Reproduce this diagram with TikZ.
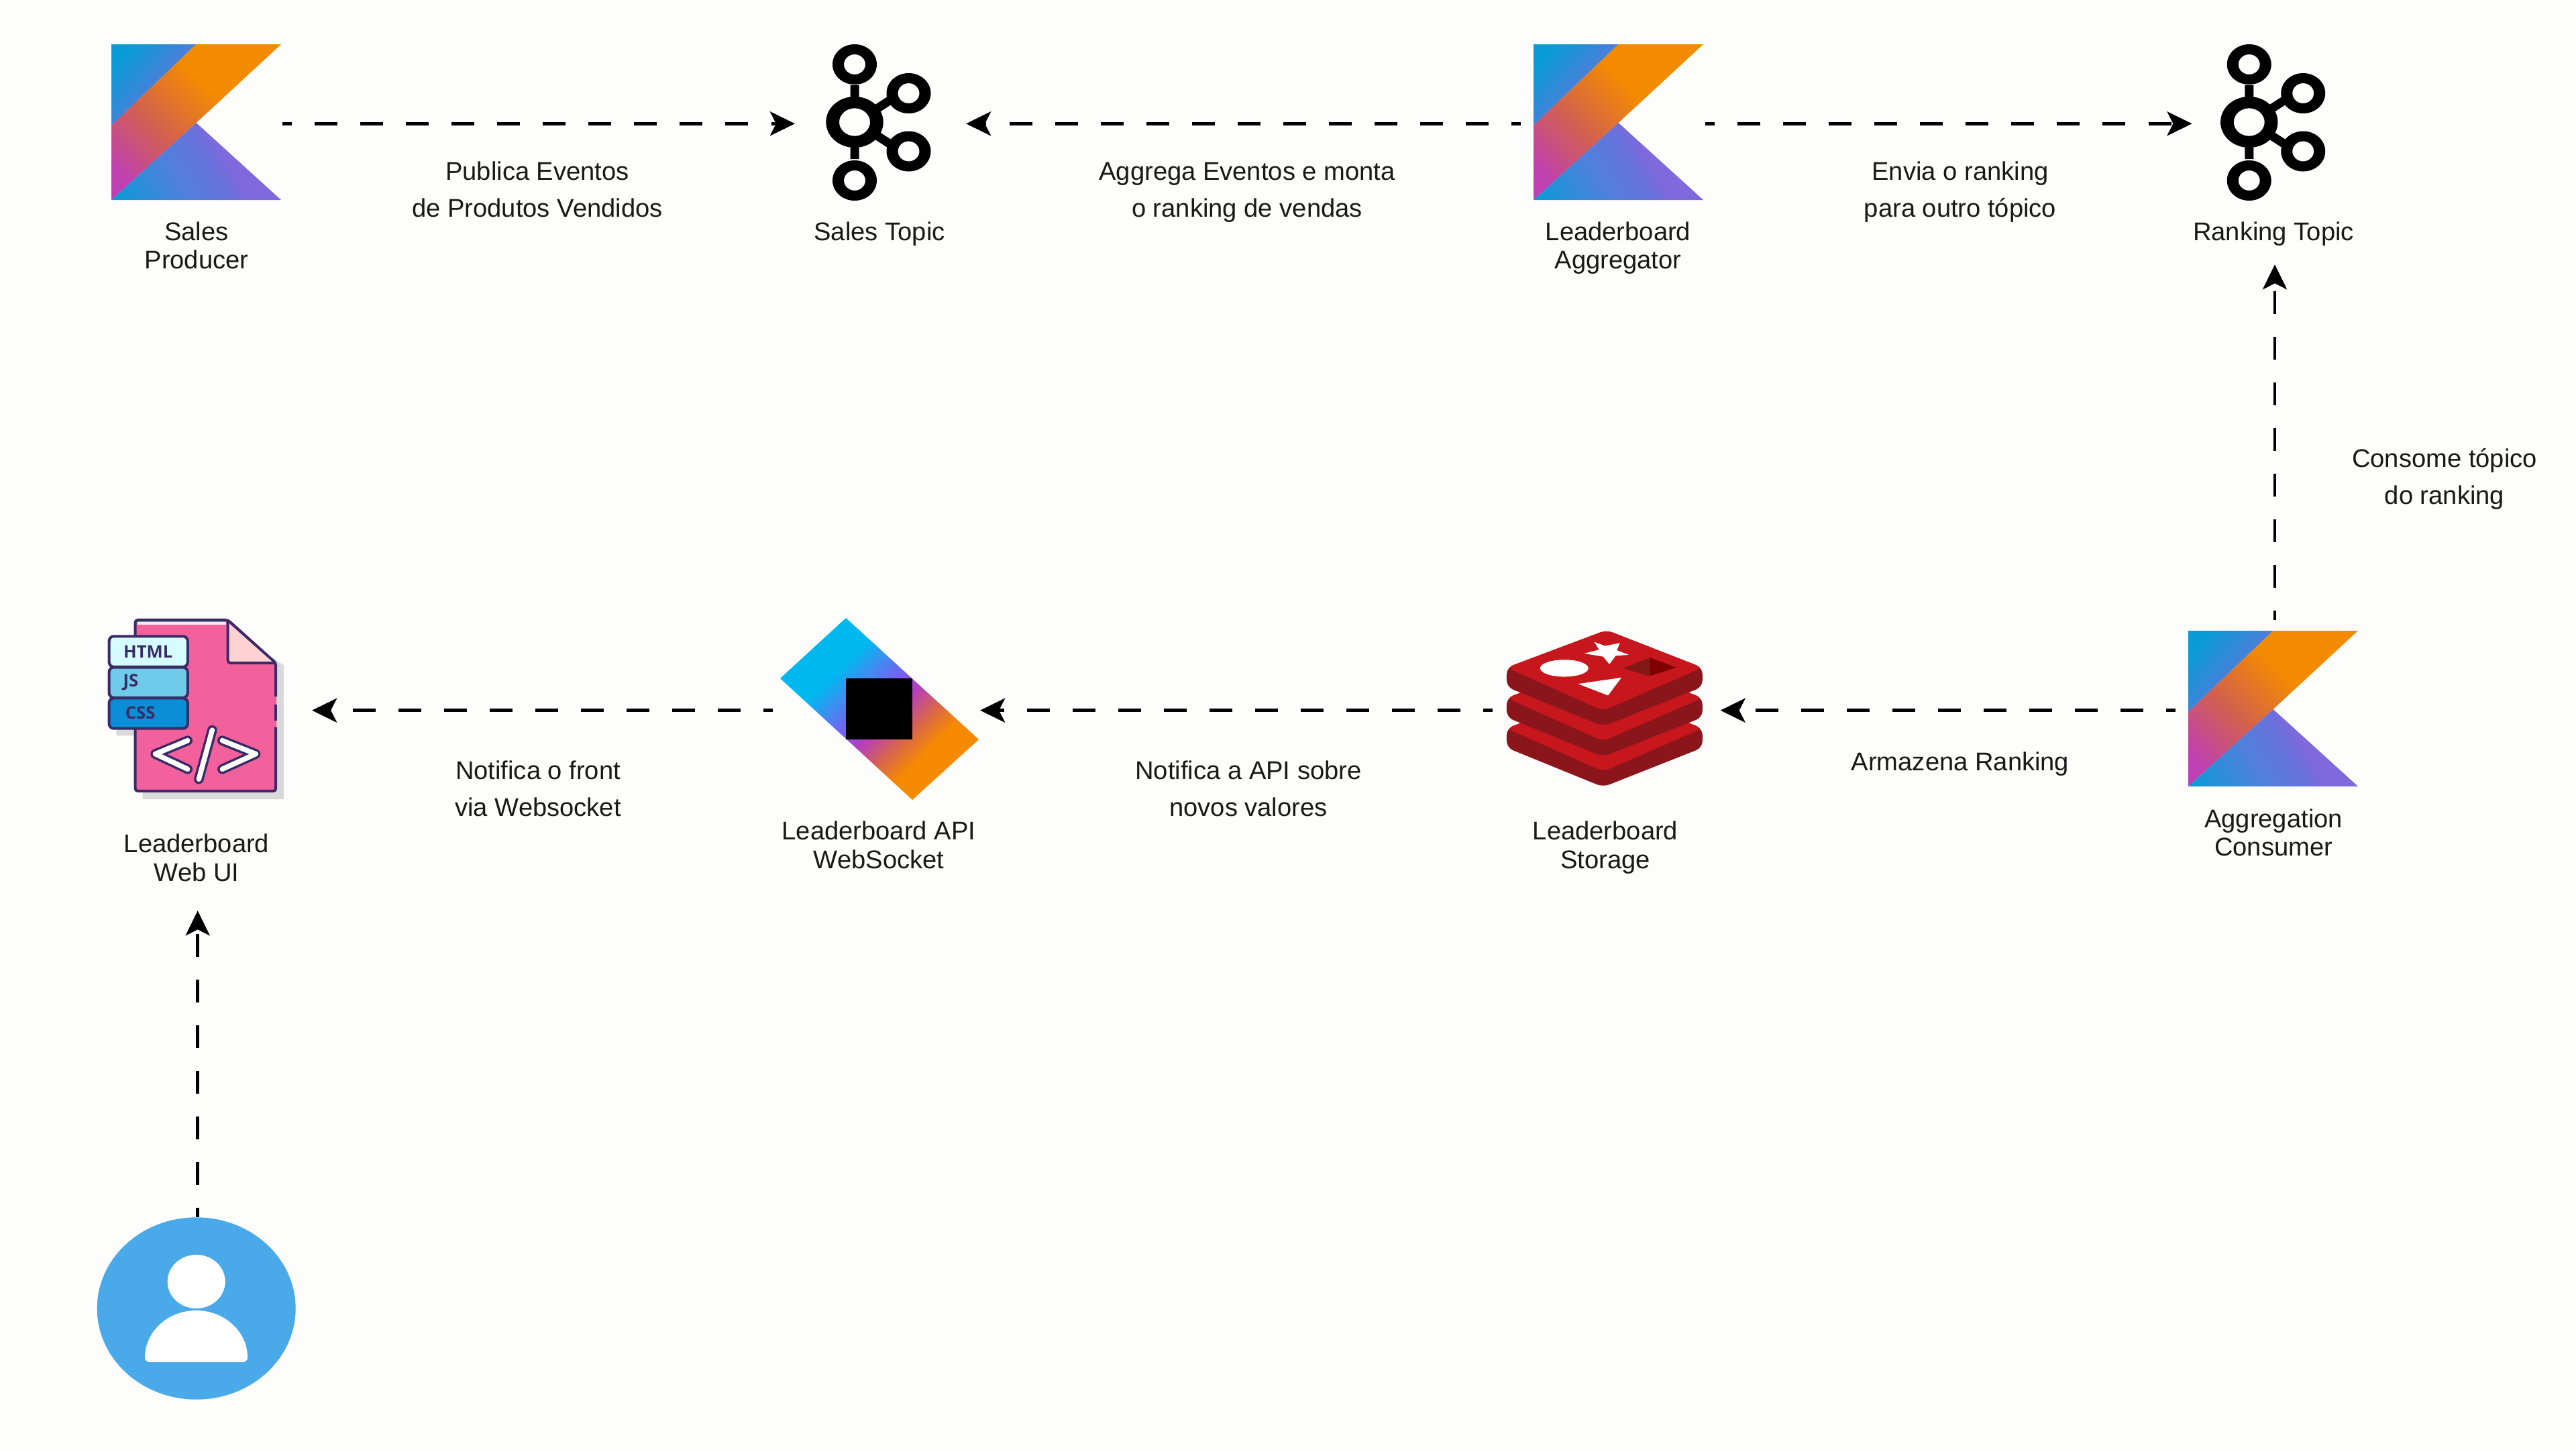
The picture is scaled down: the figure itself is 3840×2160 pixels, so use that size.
\documentclass[tikz,border=0pt]{standalone}
\usepackage{fontspec}
\setmainfont{Liberation Sans}
\newfontfamily\tagfont{Open Sans}
\usetikzlibrary{arrows.meta}
\definecolor{pageBg}{HTML}{FDFDFC}
\definecolor{kotlinCyan}{HTML}{0A9BD6}
\definecolor{kotlinPurple}{HTML}{7F69DC}
\definecolor{redisFace}{HTML}{C8161D}
\definecolor{redisSide}{HTML}{8A161C}
\definecolor{docInk}{HTML}{3A2A66}
\definecolor{docPink}{HTML}{F2619C}
\definecolor{userBlue}{HTML}{4AA9E8}
\pgfdeclarehorizontalshading{apiBar}{100bp}{color(0bp)=(rgb,255:red,0;green,184;blue,240);color(35bp)=(rgb,255:red,0;green,184;blue,240);color(41bp)=(rgb,255:red,62;green,142;blue,240);color(48bp)=(rgb,255:red,124;green,92;blue,240);color(53bp)=(rgb,255:red,180;green,62;blue,190);color(60bp)=(rgb,255:red,216;green,100;blue,80);color(67bp)=(rgb,255:red,245;green,138;blue,0);color(100bp)=(rgb,255:red,245;green,138;blue,0)}
\pgfdeclarehorizontalshading{kotlinBand}{100bp}{color(0bp)=(rgb,255:red,194;green,60;blue,196);color(22bp)=(rgb,255:red,192;green,64;blue,176);color(40bp)=(rgb,255:red,210;green,96;blue,79);color(60bp)=(rgb,255:red,243;green,139;blue,0);color(100bp)=(rgb,255:red,243;green,139;blue,0)}
\pgfdeclarehorizontalshading{kotlinBase}{100bp}{color(0bp)=(rgb,255:red,10;green,155;blue,214);color(16bp)=(rgb,255:red,10;green,155;blue,214);color(40bp)=(rgb,255:red,79;green,128;blue,220);color(55bp)=(rgb,255:red,106;green,112;blue,220);color(60bp)=(rgb,255:red,127;green,105;blue,220);color(100bp)=(rgb,255:red,127;green,105;blue,220)}
\tikzset{
  iconbox/.style={inner sep=0pt, outer sep=0pt},
  flow/.style={black, line width=0.045cm, dash pattern=on 0.34cm off 0.34cm, dash phase=0.2cm, -{Stealth[length=0.37cm,width=0.36cm,inset=0.09cm]}},
  iconlabel/.style={font={\fontsize{10.85}{12}\selectfont}, align=center, inner sep=0pt, text height=8.7pt, text depth=2.4pt, text=black!90},
  flowlabel/.style={font={\fontsize{10.85}{15.5}\selectfont}, align=center, inner sep=0pt, text height=8.7pt, text depth=2.4pt, text=black!90},
  tagtext/.style={font={\tagfont\bfseries\fontsize{7.3}{8}\selectfont}, text=docInk, inner sep=0pt}
}
\newcommand{\kotlinIcon}[2]{
\begin{scope}[shift={(#1,#2)}]
\shade[left color=kotlinCyan, right color=kotlinPurple, shading angle=50] (0,0) -- (126.5,0) -- (0,121) -- cycle;
\shade[shading=kotlinBand, shading angle=45] (126.5,0) -- (253,0) -- (126.5,117) -- (0,232) -- (0,121) -- cycle;
\shade[shading=kotlinBase, shading angle=30] (126.5,117) -- (253,232) -- (0,232) -- cycle;
\end{scope}
}
\newcommand{\kafkaIcon}[2]{
\begin{scope}[shift={(#1,#2)}]
\draw[black, line width=0.13cm] (0,-55) -- (0,-30) (0,30) -- (0,55) (30,-18) -- (58,-36) (30,18) -- (58,36);
\fill[black, even odd rule] (0,0) ellipse [x radius=42.7, y radius=38] (0,0) ellipse [x radius=23, y radius=20.7];
\fill[black, even odd rule] (0,-86) ellipse [x radius=33, y radius=30] (0,-86) ellipse [x radius=16, y radius=15];
\fill[black, even odd rule] (0,87) ellipse [x radius=33, y radius=30] (0,87) ellipse [x radius=16, y radius=15];
\fill[black, even odd rule] (80.5,-43) ellipse [x radius=33, y radius=30] (80.5,-43) ellipse [x radius=16, y radius=15];
\fill[black, even odd rule] (80.5,43.5) ellipse [x radius=33, y radius=30] (80.5,43.5) ellipse [x radius=16, y radius=15];
\end{scope}
}
\newcommand{\redisLayer}[1]{
\fill[redisSide, rounded corners=0.1cm] (78,{225+#1}) -- (525,{57+#1}) -- (955,{225+#1}) -- (955,{312+#1}) -- (510,{488+#1}) -- (78,{312+#1}) -- cycle;
\fill[redisFace, rounded corners=0.1cm] (78,{225+#1}) -- (525,{57+#1}) -- (955,{225+#1}) -- (510,{418+#1}) -- cycle;
}
\begin{document}
\begin{tikzpicture}[x=0.01cm,y=-0.01cm]
\fill[pageBg] (0,0) rectangle (3840,2160);
\useasboundingbox (0,0) rectangle (3840,2160);
\node[iconbox, minimum width=2.56cm, minimum height=2.32cm] (salesProducer) at (293,184.3) {};
\node[iconbox, minimum width=2.55cm, minimum height=2.32cm] (salesTopic) at (1312.5,184.3) {};
\node[iconbox, minimum width=2.75cm, minimum height=2.32cm] (boardAggregator) at (2404.5,184.3) {};
\node[iconbox, minimum width=2.45cm, minimum height=2.32cm] (rankingTopic) at (3390,184.3) {};
\node[iconbox, minimum width=2.96cm, minimum height=2.69cm] (aggConsumer) at (3391,1058.7) {};
\node[iconbox, minimum width=3.395cm, minimum height=2.32cm] (boardStorage) at (2394.75,1058.7) {};
\node[iconbox, minimum width=3.09cm, minimum height=2.72cm] (boardApi) at (1306.5,1058.7) {};
\node[iconbox, minimum width=3.44cm, minimum height=2.57cm] (webUi) at (293,1058.7) {};
\node[iconbox, minimum width=2.96cm, minimum height=2.71cm] (userIcon) at (294.7,1950) {};
\kotlinIcon{166}{66}
\kotlinIcon{2286}{66}
\kotlinIcon{3262}{940}
\kafkaIcon{1274}{182}
\kafkaIcon{3352.7}{182}
\begin{scope}[shift={(2220,920)},x=0.00333cm,y=-0.00333cm]
\redisLayer{272}
\redisLayer{136}
\redisLayer{0}
\fill[white] (470,110) -- (518,128) -- (585,115) -- (572,148) -- (625,168) -- (566,172) -- (538,210) -- (510,176) -- (425,162) -- (492,145) -- cycle;
\fill[white] (336,228) ellipse [x radius=108, y radius=38];
\fill[white] (398,298) -- (592,270) -- (532,350) -- cycle;
\fill[red!45!black!90!white] (600,228) -- (720,180) -- (720,265) -- cycle;
\fill[red!50!black] (720,180) -- (838,225) -- (720,262) -- cycle;
\end{scope}
\shade[shading=apiBar, shading angle=-45] (1261,921) -- (1459,1102) -- (1360,1192) -- (1163,1011) -- cycle;
\fill[black] (1261,1011) rectangle (1360,1102);
\begin{scope}[shift={(130,900)},x=0.00333cm,y=-0.00333cm]
\fill[black!15] (632,110) -- (880,275) -- (880,875) -- (248,875) -- (248,590) -- (130,590) -- (130,560) -- cycle;
\fill[docPink] (215,70) -- (630,70) -- (848,265) -- (848,840) -- (215,840) -- cycle;
\fill[white!85!docPink] (225,80) rectangle (622,94);
\draw[docInk, line width=0.04cm, rounded corners=0.04cm] (215,150) -- (215,72) -- (630,72) -- (845,265) -- (845,415);
\draw[docInk, line width=0.04cm, rounded corners=0.04cm] (845,450) -- (845,522);
\draw[docInk, line width=0.04cm, rounded corners=0.04cm] (845,552) -- (845,838) -- (215,838) -- (215,560);
\fill[pink!70!white] (632,85) -- (832,262) -- (632,262) -- cycle;
\draw[docInk, line width=0.04cm, rounded corners=0.04cm] (630,72) -- (630,265) -- (845,265);
\draw[docInk, line width=0.04cm, fill={rgb,255:red,213;green,253;blue,255}, rounded corners=0.07cm] (98,145) rectangle (450,282);
\draw[docInk, line width=0.04cm, fill={rgb,255:red,111;green,203;blue,233}, rounded corners=0.07cm] (98,284) rectangle (450,420);
\draw[docInk, line width=0.04cm, fill={rgb,255:red,10;green,143;blue,214}, rounded corners=0.07cm] (98,422) rectangle (450,558);
\node[tagtext] (tagHtml) at (273,215) {HTML};
\node[tagtext] (tagJs) at (195,350) {JS};
\node[tagtext] (tagCss) at (238,488) {CSS};
\draw[docInk, line width=0.145cm, line cap=round, line join=round] (450,612) -- (305,672) -- (450,740) (560,565) -- (500,785) (605,612) -- (755,672) -- (605,740);
\draw[white, line width=0.075cm, line cap=round, line join=round] (450,612) -- (305,672) -- (450,740) (560,565) -- (500,785) (605,612) -- (755,672) -- (605,740);
\end{scope}
\node[iconlabel] (salesProducerText) at (293,389.5) {Sales\\Producer};
\node[iconlabel] (salesTopicText) at (1311,347) {Sales Topic};
\node[iconlabel] (boardAggregatorText) at (2412,389.5) {Leaderboard\\Aggregator};
\node[iconlabel, inner ysep=0.265cm] (rankingTopicText) at (3389,347.5) {Ranking Topic};
\node[iconlabel] (aggConsumerText) at (3389,1264.5) {Aggregation\\Consumer};
\node[iconlabel] (boardStorageText) at (2393,1283) {Leaderboard\\Storage};
\node[iconlabel] (boardApiText) at (1310,1283) {Leaderboard API\\WebSocket};
\node[iconlabel, inner ysep=0.35cm] (webUiText) at (293,1302) {Leaderboard\\Web UI};
\node[flowlabel] (publishText) at (801,312) {Publica Eventos\\de Produtos Vendidos};
\node[flowlabel] (aggregateText) at (1859,312) {Aggrega Eventos e monta\\o ranking de vendas};
\node[flowlabel] (sendText) at (2922,312) {Envia o ranking\\para outro tópico};
\node[flowlabel] (consumeText) at (3644,740) {Consome tópico\\do ranking};
\node[flowlabel] (storeText) at (2922,1137.5) {Armazena Ranking};
\node[flowlabel] (notifyApiText) at (1861,1205) {Notifica a API sobre\\novos valores};
\node[flowlabel] (notifyFrontText) at (802,1205) {Notifica o front\\via Websocket};
\draw[flow] (salesProducer.east) -- (salesTopic.west);
\draw[flow] (boardAggregator.west) -- (salesTopic.east);
\draw[flow] (boardAggregator.east) -- (rankingTopic.west);
\draw[flow] (aggConsumer.north) -- (aggConsumer.north |- rankingTopicText.south);
\draw[flow] (aggConsumer.west) -- (boardStorage.east);
\draw[flow] (boardStorage.west) -- (boardApi.east);
\draw[flow] (boardApi.west) -- (webUi.east);
\draw[flow] (userIcon.north) -- (userIcon.north |- webUiText.south);
\fill[userBlue] (292.7,1950) ellipse [x radius=148, y radius=135.7];
\fill[white] (292.7,1910) ellipse [x radius=43, y radius=40];
\fill[white] (216,2023) .. controls (216,1985) and (250,1953) .. (292.5,1953) .. controls (335,1953) and (369,1985) .. (369,2023) .. controls (369,2027) and (366,2030) .. (362,2030) -- (223,2030) .. controls (219,2030) and (216,2027) .. (216,2023) -- cycle;
\end{tikzpicture}
\end{document}
